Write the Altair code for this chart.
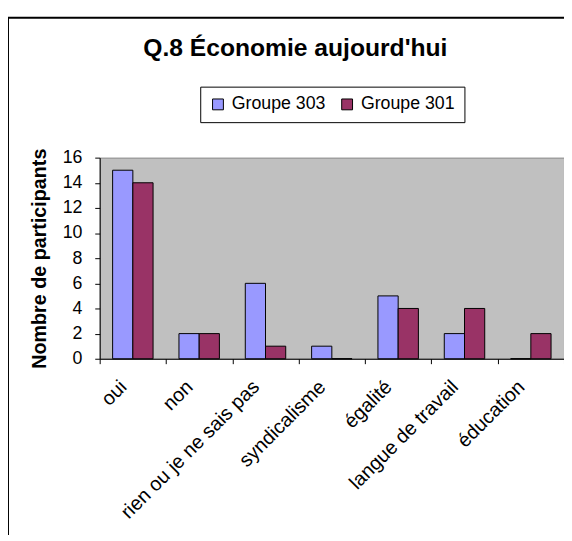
import altair as alt
import pandas as pd

categories = ["oui", "non", "rien ou je ne sais pas", "syndicalisme", "égalité", "langue de travail", "éducation"]
groupe_303 = [15, 2, 6, 1, 5, 2, 0]
groupe_301 = [14, 2, 1, 0, 4, 4, 2]
series = ["Groupe 303", "Groupe 301"]
colors = ["#9999FF", "#993366"]

rows = []
for c, a, b in zip(categories, groupe_303, groupe_301):
    rows.append({"cat": c, "groupe": series[0], "n": a})
    rows.append({"cat": c, "groupe": series[1], "n": b})
df = pd.DataFrame(rows)

FONT = "Liberation Sans"
W, H = 471, 204

bars = alt.Chart(df).mark_bar(stroke="black", strokeWidth=1).encode(
    x=alt.X("cat:N", sort=categories,
            scale=alt.Scale(domain=categories, paddingInner=0, paddingOuter=0),
            axis=alt.Axis(title=None, labelAngle=-45, labelFontSize=20, labelFont=FONT,
                          labelColor="black", domainColor="black", tickColor="black",
                          tickSize=5, tickBand="extent", labelPadding=13, labelLimit=400,
                          labelOffset=-17)),
    xOffset=alt.XOffset("groupe:N", sort=series,
                        scale=alt.Scale(domain=series, paddingInner=0, paddingOuter=0.64)),
    y=alt.Y("n:Q", scale=alt.Scale(domain=[0, 16]),
            axis=alt.Axis(title="Nombre de participants", values=list(range(0, 17, 2)),
                          labelFontSize=18, labelFont=FONT, labelColor="black",
                          domainColor="black", tickColor="black", tickSize=5,
                          labelPadding=13, grid=False,
                          titleFont=FONT, titleFontSize=20, titleFontWeight="bold",
                          titleColor="black", titleX=-61, titleY=H / 2, titleAngle=270,
                          titleAlign="center", titleBaseline="middle")),
    color=alt.Color("groupe:N", sort=series,
                    scale=alt.Scale(domain=series, range=colors),
                    legend=alt.Legend(title=None, orient="none", legendX=102, legendY=-72,
                                      direction="horizontal", strokeColor="black",
                                      fillColor="white", padding=9, labelFontSize=18,
                                      labelFont=FONT, labelColor="black", symbolType="square",
                                      symbolSize=121, symbolStrokeColor="black",
                                      symbolStrokeWidth=1, columnPadding=12, labelOffset=5)),
)

frame = alt.Chart(pd.DataFrame({"a": [0]})).mark_rect(
    fill="white", fillOpacity=0, stroke="black", strokeWidth=2
).encode(
    x=alt.value(-93), x2=alt.value(W + 40), y=alt.value(-142), y2=alt.value(H + 250)
)

chart = alt.layer(frame, bars).properties(
    width=W, height=H,
    title=alt.TitleParams("Q.8 Économie aujourd'hui", font=FONT, fontSize=25,
                          fontWeight="bold", color="black", anchor="middle",
                          frame="group", dx=-37, offset=-45),
    autosize=alt.AutoSizeParams(type="none"),
    padding={"left": 93, "top": 148, "right": 0, "bottom": 175},
).configure_view(fill="#C0C0C0", stroke="#808080", strokeWidth=1)

chart.save("out.html", embed_options={"renderer": "svg", "actions": False})
